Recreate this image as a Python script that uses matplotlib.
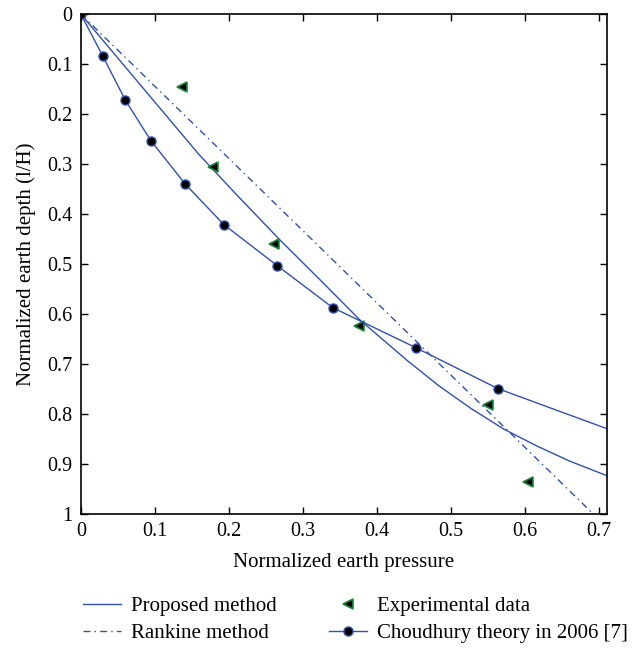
import numpy as np
import matplotlib
matplotlib.use('Agg')
from matplotlib import pyplot as plt

plt.rcParams['font.family'] = ['Liberation Serif', 'DejaVu Serif']

# Data (x = normalized pressure, y = normalized depth)
proposed_x = [0.0, 0.080, 0.159, 0.212, 0.269, 0.324, 0.377, 0.440, 0.483, 0.527,
              0.571, 0.616, 0.660, 0.71]
proposed_y = [0.0, 0.141, 0.280, 0.364, 0.452, 0.533, 0.612, 0.692, 0.743, 0.789,
              0.830, 0.864, 0.894, 0.923]

rankine_x = [0.0, 0.692]
rankine_y = [0.0, 1.0]

exp_x = [0.136, 0.179, 0.261, 0.376, 0.550, 0.604]
exp_y = [0.145, 0.305, 0.459, 0.623, 0.781, 0.936]

chou_x = [0.0, 0.0297, 0.060, 0.095, 0.141, 0.193, 0.265, 0.340, 0.452, 0.563]
chou_y = [0.0, 0.084, 0.172, 0.254, 0.340, 0.421, 0.503, 0.587, 0.667, 0.749]
chou_tail_x = [0.563, 0.64, 0.71]
chou_tail_y = [0.749, 0.791, 0.829]

xticks = [0, 0.1, 0.2, 0.3, 0.4, 0.5, 0.6, 0.7]
xtick_labels = ['0', '0.1', '0.2', '0.3', '0.4', '0.5', '0.6', '0.7']
yticks = [0, 0.1, 0.2, 0.3, 0.4, 0.5, 0.6, 0.7, 0.8, 0.9, 1.0]
ytick_labels = ['0', '0.1', '0.2', '0.3', '0.4', '0.5', '0.6', '0.7', '0.8', '0.9', '1']

blue = '#3050b0'

fig = plt.figure(figsize=(6.41, 6.5), dpi=100)
ax = fig.add_axes([0.126, 0.209, 0.8206, 0.7695])

ax.plot(proposed_x, proposed_y, color=blue, lw=1.0, label='Proposed method')
ax.plot(rankine_x, rankine_y, color=blue, lw=1.0, dashes=(5, 3, 1, 3),
        label='Rankine method')
ax.plot(exp_x, exp_y, linestyle='none', marker='<', markersize=7,
        markerfacecolor='black', markeredgecolor='#1a8a3a', markeredgewidth=1.2,
        label='Experimental data')
ax.plot(chou_tail_x, chou_tail_y, color=blue, lw=1.0)
ax.plot(chou_x, chou_y, color=blue, lw=1.0, marker='o', markersize=6.5,
        markerfacecolor='black', markeredgecolor=blue, markeredgewidth=1.0,
        label='Choudhury theory in 2006 [7]')

ax.set_xlim(0, 0.71)
ax.set_ylim(1, 0)
ax.set_xticks(xticks)
ax.set_xticklabels(xtick_labels)
ax.set_yticks(yticks)
ax.set_yticklabels(ytick_labels)
ax.tick_params(direction='in', top=True, right=True, labelsize=14.5, length=5, width=1,
               pad=6)
for s in ax.spines.values():
    s.set_linewidth(1.2)

ax.set_xlabel('Normalized earth pressure', fontsize=15, labelpad=8)
ax.set_ylabel('Normalized earth depth (l/H)', fontsize=15, labelpad=8)

fig.legend(loc='center', bbox_to_anchor=(0.555, 0.046), ncol=2, frameon=False,
           fontsize=15, handlelength=1.8, handletextpad=0.5, columnspacing=2.5,
           labelspacing=0.35)

fig.savefig('out.png', dpi=100)
